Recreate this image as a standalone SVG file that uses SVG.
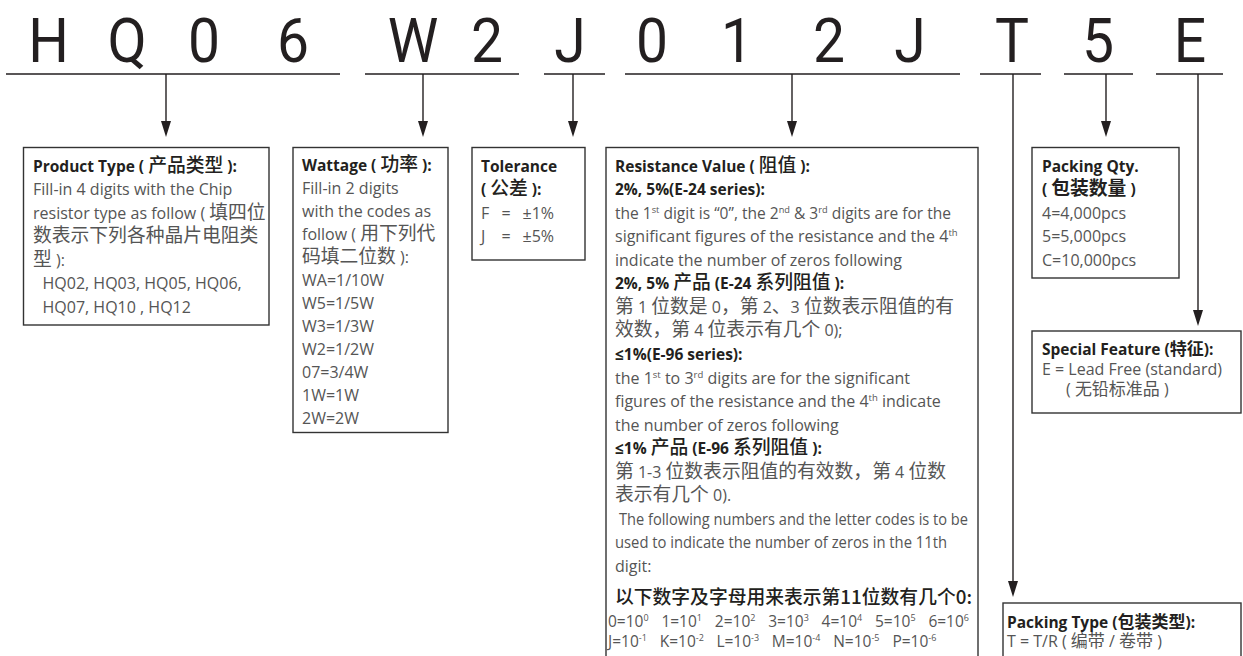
<svg xmlns="http://www.w3.org/2000/svg" width="1243" height="656" viewBox="0 0 1243 656">
<style>
.big{font-family:Roboto,"Liberation Sans",sans-serif;font-size:62px;fill:#231f20;text-anchor:middle}
.t{font-family:"Open Sans","Noto Sans CJK SC",sans-serif;font-size:16px;fill:#555}
.h{font-weight:700;fill:#231f20;font-size:15.5px}
.c{font-family:"Noto Sans CJK SC",sans-serif;font-size:18.8px}
.c2{font-family:"Noto Sans CJK SC",sans-serif;font-size:17px}
.hc{font-weight:500}
.s{font-size:9.5px}
.e{font-size:15.5px}
.ex{font-size:9px}
.k{font-family:"Noto Sans CJK SC",sans-serif;font-size:18.8px;font-weight:500;fill:#231f20}
.box{fill:#fff;stroke:#333;stroke-width:1.4}
.ln{stroke:#231f20;stroke-width:1.4;fill:none}
</style>
<defs>
<marker id="ah" viewBox="0 0 16 10" refX="13" refY="5" markerWidth="16" markerHeight="10" markerUnits="userSpaceOnUse" orient="auto">
<path d="M0,0 L16,5 L0,10 Z" fill="#231f20"/>
</marker>
</defs>

<g id="code">
<text class="big" transform="translate(48.5 62) scale(0.92 1)">H</text>
<text class="big" transform="translate(127 62) scale(0.92 1)">Q</text>
<text class="big" transform="translate(204 62) scale(0.92 1)">0</text>
<text class="big" transform="translate(293 62) scale(0.92 1)">6</text>
<text class="big" transform="translate(413 62) scale(0.92 1)">W</text>
<text class="big" transform="translate(487 62) scale(0.92 1)">2</text>
<text class="big" transform="translate(570 62) scale(0.92 1)">J</text>
<text class="big" transform="translate(652 62) scale(0.92 1)">0</text>
<text class="big" transform="translate(737 62) scale(0.92 1)">1</text>
<text class="big" transform="translate(829 62) scale(0.92 1)">2</text>
<text class="big" transform="translate(910 62) scale(0.92 1)">J</text>
<text class="big" transform="translate(1012 62) scale(0.92 1)">T</text>
<text class="big" transform="translate(1098 62) scale(0.92 1)">5</text>
<text class="big" transform="translate(1190 62) scale(0.92 1)">E</text>
</g>

<g id="connectors">
<path class="ln" d="M6,74H340 M365,74H519 M544,74H605 M625,74H960 M980,74H1041 M1064,74H1133 M1156,74H1223"/>
<path class="ln" d="M166,74V134" marker-end="url(#ah)"/>
<path class="ln" d="M423,74V134" marker-end="url(#ah)"/>
<path class="ln" d="M573,74V134" marker-end="url(#ah)"/>
<path class="ln" d="M792,74V134" marker-end="url(#ah)"/>
<path class="ln" d="M1106,74V134" marker-end="url(#ah)"/>
<path class="ln" d="M1013,74V594" marker-end="url(#ah)"/>
<path class="ln" d="M1198,74V323" marker-end="url(#ah)"/>
</g>

<g id="product-type">
<rect class="box" x="23.5" y="147.5" width="245.5" height="177.5"/>
<text class="t h" x="33" y="171.5">Product Type ( <tspan class="c hc">产品类型</tspan> ):</text>
<text class="t" x="33" y="195">Fill-in 4 digits with the Chip</text>
<text class="t" x="33" y="218.5">resistor type as follow ( <tspan class="c">填四位</tspan></text>
<text class="t" x="33" y="242"><tspan class="c">数表示下列各种晶片电阻类</tspan></text>
<text class="t" x="33" y="265.5"><tspan class="c">型</tspan> ):</text>
<text class="t" x="42.5" y="289">HQ02, HQ03, HQ05, HQ06,</text>
<text class="t" x="42.5" y="312.5">HQ07, HQ10 , HQ12</text>
</g>

<g id="wattage">
<rect class="box" x="293" y="147.5" width="155" height="285"/>
<text class="t h" x="302" y="171">Wattage ( <tspan class="c hc">功率</tspan> ):</text>
<text class="t" x="302" y="194">Fill-in 2 digits</text>
<text class="t" x="302" y="217">with the codes as</text>
<text class="t" x="302" y="240">follow ( <tspan class="c">用下列代</tspan></text>
<text class="t" x="302" y="263"><tspan class="c">码填二位数</tspan> ):</text>
<text class="t" x="302" y="286">WA=1/10W</text>
<text class="t" x="302" y="309">W5=1/5W</text>
<text class="t" x="302" y="332">W3=1/3W</text>
<text class="t" x="302" y="355">W2=1/2W</text>
<text class="t" x="302" y="378">07=3/4W</text>
<text class="t" x="302" y="401">1W=1W</text>
<text class="t" x="302" y="424">2W=2W</text>
</g>

<g id="tolerance">
<rect class="box" x="472" y="147.5" width="113" height="112.5"/>
<text class="t h" x="481" y="171.5">Tolerance</text>
<text class="t h" x="481" y="195">( <tspan class="c hc">公差</tspan> ):</text>
<text class="t" y="218.5"><tspan x="481">F</tspan><tspan x="501.5">=</tspan><tspan x="522.5">±1%</tspan></text>
<text class="t" y="242"><tspan x="481">J</tspan><tspan x="501.5">=</tspan><tspan x="522.5">±5%</tspan></text>
</g>

<g id="resistance">
<rect class="box" x="606" y="147.5" width="372" height="515"/>
<text class="t h" x="615" y="171.5">Resistance Value ( <tspan class="c hc">阻值</tspan> ):</text>
<text class="t h" x="615" y="195">2%, 5%(E-24 series):</text>
<text class="t" x="615" y="218.6" textLength="336" lengthAdjust="spacingAndGlyphs">the 1<tspan class="s" dy="-6">st</tspan><tspan dy="6"> digit is “0”, the 2</tspan><tspan class="s" dy="-6">nd</tspan><tspan dy="6"> &amp; 3</tspan><tspan class="s" dy="-6">rd</tspan><tspan dy="6"> digits are for the</tspan></text>
<text class="t" x="615" y="242.2">significant figures of the resistance and the 4<tspan class="s" dy="-6">th</tspan></text>
<text class="t" x="615" y="265.7">indicate the number of  zeros following</text>
<text class="t h" x="615" y="289.3">2%, 5% <tspan class="c hc">产品</tspan> (E-24 <tspan class="c hc">系列阻值</tspan> ):</text>
<text class="t" x="615" y="312.8"><tspan class="c">第</tspan> 1 <tspan class="c">位数是</tspan> 0<tspan class="c">，第</tspan> 2<tspan class="c">、</tspan>3 <tspan class="c">位数表示阻值的有</tspan></text>
<text class="t" x="615" y="336.4"><tspan class="c">效数，第</tspan> 4 <tspan class="c">位表示有几个</tspan> 0);</text>
<text class="t h" x="615" y="359.9">≤1%(E-96 series):</text>
<text class="t" x="615" y="383.5">the 1<tspan class="s" dy="-6">st</tspan><tspan dy="6"> to 3</tspan><tspan class="s" dy="-6">rd</tspan><tspan dy="6"> digits are for the significant</tspan></text>
<text class="t" x="615" y="407">figures of the resistance and the 4<tspan class="s" dy="-6">th</tspan><tspan dy="6"> indicate</tspan></text>
<text class="t" x="615" y="430.6">the number of  zeros following</text>
<text class="t h" x="615" y="454.1">≤1% <tspan class="c hc">产品</tspan> (E-96 <tspan class="c hc">系列阻值</tspan> ):</text>
<text class="t" x="615" y="477.7"><tspan class="c">第</tspan> 1-3 <tspan class="c">位数表示阻值的有效数，第</tspan> 4 <tspan class="c">位数</tspan></text>
<text class="t" x="615" y="501.2"><tspan class="c">表示有几个</tspan> 0).</text>
<text class="t" x="619" y="524.8" textLength="349" lengthAdjust="spacingAndGlyphs">The following numbers and the letter codes is to be</text>
<text class="t" x="615" y="548.3" textLength="332" lengthAdjust="spacingAndGlyphs">used to indicate the number of zeros in the 11th</text>
<text class="t" x="615" y="571.9">digit:</text>
<text class="k" x="615" y="604">以下数字及字母用来表示第11位数有几个0:</text>
<text class="t e" x="608" y="627">0=10<tspan class="ex" dy="-6">0</tspan></text>
<text class="t e" x="661.4" y="627">1=10<tspan class="ex" dy="-6">1</tspan></text>
<text class="t e" x="714.8" y="627">2=10<tspan class="ex" dy="-6">2</tspan></text>
<text class="t e" x="768.2" y="627">3=10<tspan class="ex" dy="-6">3</tspan></text>
<text class="t e" x="821.6" y="627">4=10<tspan class="ex" dy="-6">4</tspan></text>
<text class="t e" x="875" y="627">5=10<tspan class="ex" dy="-6">5</tspan></text>
<text class="t e" x="928.4" y="627">6=10<tspan class="ex" dy="-6">6</tspan></text>
<text class="t e" x="608" y="647">J=10<tspan class="ex" dy="-6">-1</tspan></text>
<text class="t e" x="659.7" y="647">K=10<tspan class="ex" dy="-6">-2</tspan></text>
<text class="t e" x="716.4" y="647">L=10<tspan class="ex" dy="-6">-3</tspan></text>
<text class="t e" x="771.8" y="647">M=10<tspan class="ex" dy="-6">-4</tspan></text>
<text class="t e" x="833.2" y="647">N=10<tspan class="ex" dy="-6">-5</tspan></text>
<text class="t e" x="892.4" y="647">P=10<tspan class="ex" dy="-6">-6</tspan></text>
</g>

<g id="packing-qty">
<rect class="box" x="1032" y="147.5" width="147" height="130.5"/>
<text class="t h" x="1042" y="171.5">Packing Qty.</text>
<text class="t h" x="1042" y="195">( <tspan class="c">包装数量</tspan> )</text>
<text class="t" x="1042" y="218.5">4=4,000pcs</text>
<text class="t" x="1042" y="242">5=5,000pcs</text>
<text class="t" x="1042" y="265.5">C=10,000pcs</text>
</g>

<g id="special-feature">
<rect class="box" x="1032" y="331" width="209" height="82"/>
<text class="t h" x="1042" y="355">Special Feature (<tspan class="c2">特征</tspan>):</text>
<text class="t" x="1042" y="375">E = Lead Free (standard)</text>
<text class="t" x="1066" y="395">( <tspan class="c2">无铅标准品</tspan> )</text>
</g>

<g id="packing-type">
<rect class="box" x="1003" y="603" width="238" height="70"/>
<text class="t h" x="1007" y="628">Packing Type (<tspan class="c2">包装类型</tspan>):</text>
<text class="t" x="1007" y="647">T = T/R ( <tspan class="c2">编带</tspan> / <tspan class="c2">卷带</tspan> )</text>
</g>
</svg>
